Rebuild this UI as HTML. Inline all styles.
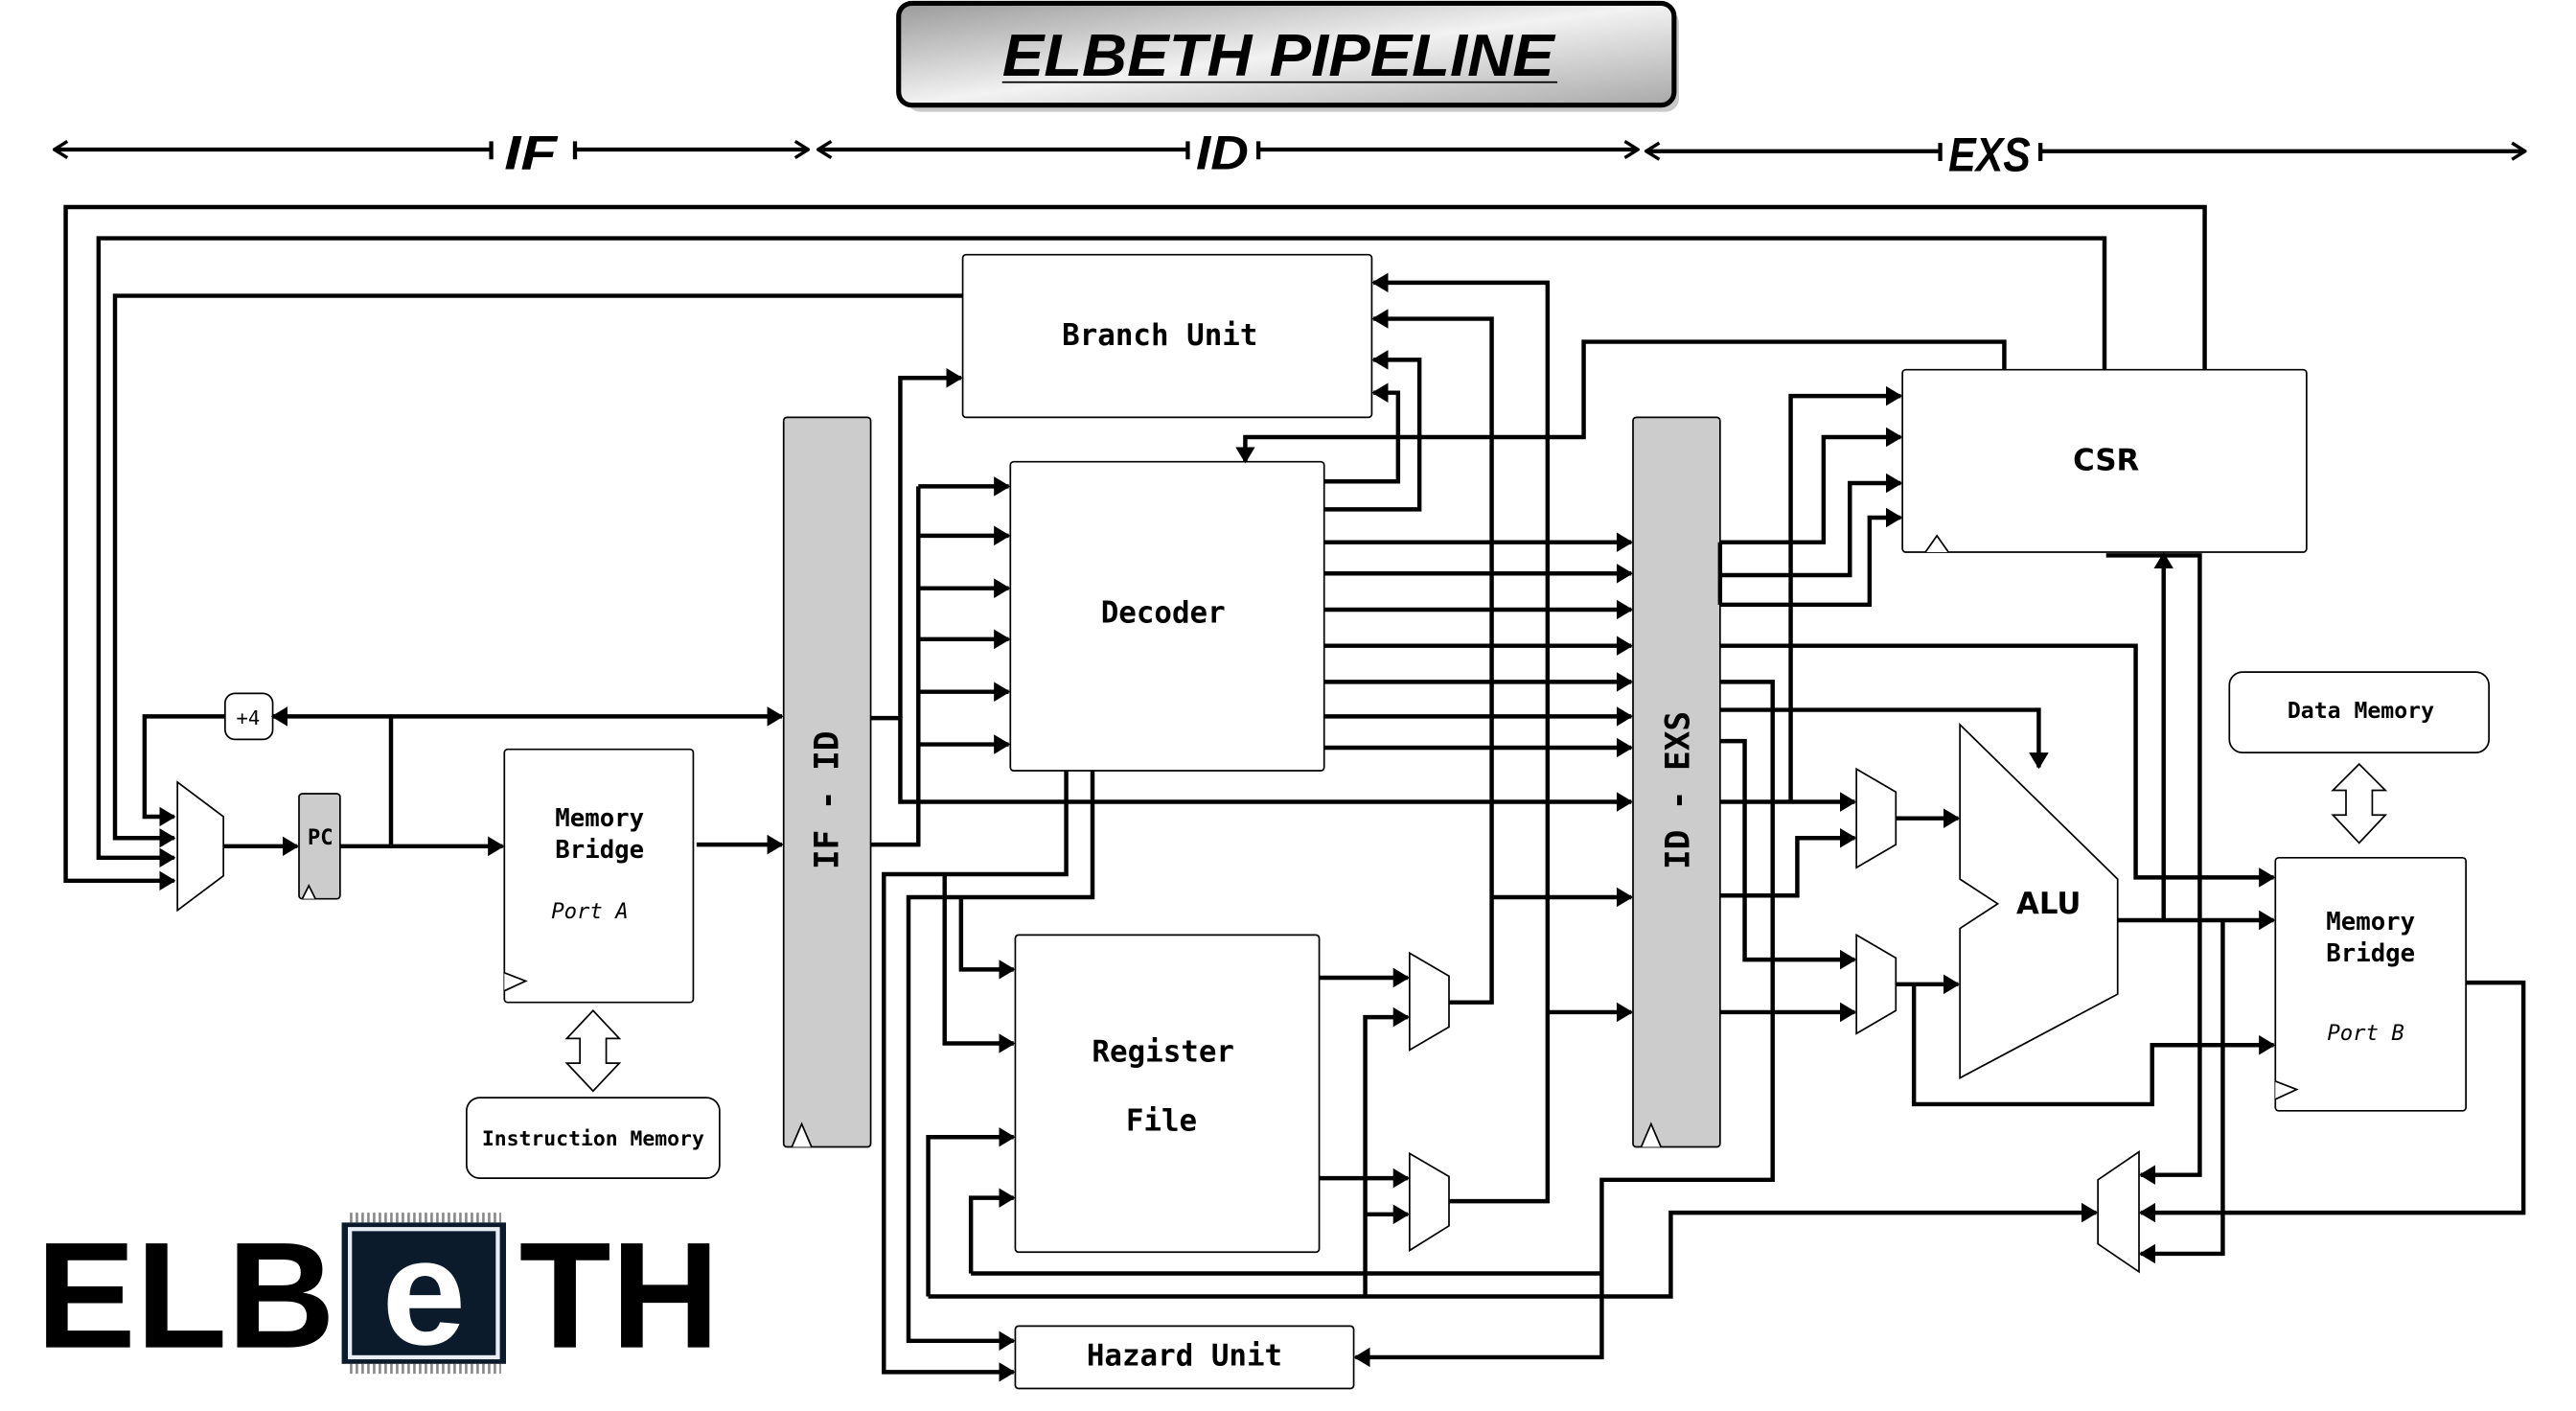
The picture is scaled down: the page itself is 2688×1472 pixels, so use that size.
<!DOCTYPE html>
<html><head><meta charset="utf-8"><style>
html,body{margin:0;padding:0;background:#fff;}
svg{display:block;}
.m{font-family:"DejaVu Sans Mono","Liberation Mono",monospace;font-weight:bold;}
</style></head><body>
<svg width="2688" height="1472" viewBox="0 0 1568 858.7" preserveAspectRatio="none" xmlns="http://www.w3.org/2000/svg">
<defs>
<marker id="a" markerUnits="userSpaceOnUse" markerWidth="10" markerHeight="12" refX="9" refY="6" orient="auto">
<path d="M0,0 L10,6 L0,12 z" fill="#000"/></marker>
<marker id="s" markerUnits="userSpaceOnUse" markerWidth="10" markerHeight="12" refX="9" refY="6" orient="auto">
<path d="M1,1 L9,6 L1,11" fill="none" stroke="#000" stroke-width="2"/></marker>
<linearGradient id="g" x1="0" y1="0" x2="1" y2="1"><stop offset="0" stop-color="#9a9a9a"/><stop offset="0.5" stop-color="#f2f2f2"/><stop offset="1" stop-color="#a8a8a8"/></linearGradient>
</defs>

<!-- title -->
<rect x="549" y="3" width="470" height="62" rx="8" fill="#777" opacity="0.4" transform="translate(3,3)"/>
<rect x="547" y="2" width="472" height="62" rx="8" fill="url(#g)" stroke="#000" stroke-width="3"/>
<text x="610" y="46" font-family="Liberation Sans,sans-serif" font-weight="bold" font-style="italic" font-size="36" textLength="336" lengthAdjust="spacingAndGlyphs">ELBETH PIPELINE</text>
<line x1="610" y1="50" x2="948" y2="50" stroke="#000" stroke-width="1"/>

<!-- stage arrows -->
<g stroke="#000" stroke-width="2.5" fill="none">
<path d="M298,91 H33" marker-end="url(#s)"/><path d="M350,91 H492" marker-end="url(#s)"/>
<path d="M722,91 H498" marker-end="url(#s)"/><path d="M766,91 H997" marker-end="url(#s)"/>
<path d="M1180,92 H1002" marker-end="url(#s)"/><path d="M1242,92 H1537" marker-end="url(#s)"/>
<path d="M299,86 V97 M350,86 V97 M723,86 V97 M766,86 V97 M1181,87 V98 M1242,87 V98"/>
</g>
<g font-family="Liberation Sans,sans-serif" font-weight="bold" font-style="italic" font-size="29">
<text x="307" y="103" textLength="32" lengthAdjust="spacingAndGlyphs">IF</text>
<text x="728" y="103" textLength="32" lengthAdjust="spacingAndGlyphs">ID</text>
<text x="1186" y="104" textLength="50" lengthAdjust="spacingAndGlyphs">EXS</text>
</g>

<!-- boxes -->
<g fill="#fff" stroke="#000" stroke-width="1">
<rect x="586" y="155" width="249" height="99" rx="2"/>
<rect x="615" y="281" width="191" height="188" rx="2"/>
<rect x="618" y="569" width="185" height="193" rx="2"/>
<rect x="618" y="807" width="206" height="38" rx="2"/>
<rect x="1158" y="225" width="246" height="111" rx="2"/>
<rect x="1357" y="409" width="158" height="49" rx="8"/>
<rect x="1385" y="522" width="116" height="154" rx="2"/>
<rect x="307" y="456" width="115" height="154" rx="2"/>
<rect x="284" y="668" width="154" height="49" rx="8"/>
<rect x="137" y="422" width="29" height="28" rx="6"/>
<rect x="182" y="483" width="25" height="64" rx="2" fill="#ccc"/>
<rect x="477" y="254" width="53" height="444" rx="2" fill="#ccc"/>
<rect x="994" y="254" width="53" height="444" rx="2" fill="#ccc"/>
<polygon points="108,476 136,497 136,533 108,554"/>
<polygon points="858,580 882,594 882,625 858,639"/>
<polygon points="858,702 882,716 882,746 858,761"/>
<polygon points="1130,468 1154,482 1154,514 1130,528"/>
<polygon points="1130,569 1154,583 1154,615 1130,629"/>
<polygon points="1302,701 1302,774 1277,757 1277,718"/>
<polygon points="1193,441 1289,535 1289,602 1289,605 1193,656 1193,565 1216,550 1193,535"/>
<polygon points="361,615 377,632 369,632 369,647 377,647 361,664 345,647 353,647 353,632 345,632"/>
<polygon points="1436,465 1452,481 1444,481 1444,496 1452,496 1436,513 1420,496 1428,496 1428,481 1420,481"/>
<polyline points="482,698 488,684 494,698"/>
<polyline points="999,698 1005,684 1011,698"/>
<polyline points="184,547 188,539 192,547"/>
<polyline points="1172,336 1179,326 1186,336"/>
<polyline points="307,592 320,597 307,603"/>
<polyline points="1385,658 1398,663 1385,669"/>
</g>

<!-- wires -->
<g stroke="#000" stroke-width="2.6" fill="none" stroke-linejoin="miter">
<path d="M1342,225 V126 H40 V536 H106" marker-end="url(#a)"/>
<path d="M1281,225 V145 H60 V522 H106" marker-end="url(#a)"/>
<path d="M586,180 H70 V510 H106" marker-end="url(#a)"/>
<path d="M137,436 H88 V497 H106" marker-end="url(#a)"/>
<path d="M238,436 H166" marker-end="url(#a)"/>
<path d="M238,436 H476" marker-end="url(#a)"/>
<path d="M238,515 V436"/>
<path d="M136,515 H181" marker-end="url(#a)"/>
<path d="M207,515 H306" marker-end="url(#a)"/>
<path d="M424,514 H476" marker-end="url(#a)"/>
<path d="M530,437 H548 V488 H993" marker-end="url(#a)"/>
<path d="M548,437 V230 H585" marker-end="url(#a)"/>
<path d="M530,514 H559 V296"/>
<path d="M559,296 H614" marker-end="url(#a)"/>
<path d="M559,326 H614" marker-end="url(#a)"/>
<path d="M559,358 H614" marker-end="url(#a)"/>
<path d="M559,389 H614" marker-end="url(#a)"/>
<path d="M559,421 H614" marker-end="url(#a)"/>
<path d="M559,453 H614" marker-end="url(#a)"/>
<path d="M649,469 V532 H538 V835 H617" marker-end="url(#a)"/>
<path d="M575,532 V635 H617" marker-end="url(#a)"/>
<path d="M665,469 V546 H553 V816 H617" marker-end="url(#a)"/>
<path d="M585,546 V590 H617" marker-end="url(#a)"/>
<path d="M806,330 H993" marker-end="url(#a)"/>
<path d="M806,349 H993" marker-end="url(#a)"/>
<path d="M806,371 H993" marker-end="url(#a)"/>
<path d="M806,393 H993" marker-end="url(#a)"/>
<path d="M806,415 H993" marker-end="url(#a)"/>
<path d="M806,436 H993" marker-end="url(#a)"/>
<path d="M806,455 H993" marker-end="url(#a)"/>
<path d="M806,293 H851 V239 H836" marker-end="url(#a)"/>
<path d="M806,310 H864 V219 H836" marker-end="url(#a)"/>
<path d="M882,731 H942 V172 H836" marker-end="url(#a)"/>
<path d="M942,616 H993" marker-end="url(#a)"/>
<path d="M882,610 H908 V194 H836" marker-end="url(#a)"/>
<path d="M908,546 H993" marker-end="url(#a)"/>
<path d="M1220,225 V208 H964 V266 H758 V281" marker-end="url(#a)"/>
<path d="M803,595 H857" marker-end="url(#a)"/>
<path d="M803,717 H857" marker-end="url(#a)"/>
<path d="M831,789 V619 H857" marker-end="url(#a)"/>
<path d="M831,739 H857" marker-end="url(#a)"/>
<path d="M565,789 V692 H617" marker-end="url(#a)"/>
<path d="M565,789 H1017 V738 H1276" marker-end="url(#a)"/>
<path d="M591,775 V729 H617" marker-end="url(#a)"/>
<path d="M591,775 H975"/>
<path d="M1047,415 H1079 V718 H975 V826 H825" marker-end="url(#a)"/>
<path d="M1047,330 H1110 V266 H1157" marker-end="url(#a)"/>
<path d="M1047,350 H1126 V294 H1157" marker-end="url(#a)"/>
<path d="M1047,368 H1138 V315 H1157" marker-end="url(#a)"/>
<path d="M1047,330 V368"/>
<path d="M1090,488 V241 H1157" marker-end="url(#a)"/>
<path d="M1047,488 H1129" marker-end="url(#a)"/>
<path d="M1047,545 H1094 V510 H1129" marker-end="url(#a)"/>
<path d="M1047,451 H1062 V584 H1129" marker-end="url(#a)"/>
<path d="M1047,616 H1129" marker-end="url(#a)"/>
<path d="M1047,432 H1241 V467" marker-end="url(#a)"/>
<path d="M1047,393 H1300 V534 H1384" marker-end="url(#a)"/>
<path d="M1154,498 H1192" marker-end="url(#a)"/>
<path d="M1154,599 H1192" marker-end="url(#a)"/>
<path d="M1165,599 V672 H1310 V636 H1384" marker-end="url(#a)"/>
<path d="M1289,560 H1384" marker-end="url(#a)"/>
<path d="M1317,560 V337" marker-end="url(#a)"/>
<path d="M1282,338 H1339 V715 H1303" marker-end="url(#a)"/>
<path d="M1353,560 V763 H1303" marker-end="url(#a)"/>
<path d="M1501,598 H1536 V738 H1303" marker-end="url(#a)"/>
</g>

<!-- labels -->
<g class="m" font-size="18" text-anchor="middle">
<text x="706" y="210">Branch Unit</text>
<text x="708" y="379">Decoder</text>
<text x="708" y="646">Register</text>
<text x="707" y="688">File</text>
<text x="721" y="831">Hazard Unit</text>
</g>
<g font-family="DejaVu Sans,Liberation Sans,sans-serif" font-weight="bold" font-size="18" text-anchor="middle">
<text x="1282" y="286">CSR</text>
<text x="1247" y="556">ALU</text>
</g>
<g class="m" font-size="15" text-anchor="middle">
<text x="365" y="503">Memory</text><text x="365" y="522">Bridge</text>
<text x="1443" y="566">Memory</text><text x="1443" y="585">Bridge</text>
</g>
<g font-family="DejaVu Sans Mono,monospace" font-style="italic" font-size="13" text-anchor="middle">
<text x="359" y="559">Port A</text><text x="1440" y="633">Port B</text>
</g>
<g class="m" text-anchor="middle">
<text x="361" y="697" font-size="12.5">Instruction Memory</text>
<text x="1437" y="437" font-size="13.5">Data Memory</text>
<text x="151" y="441" font-size="12" font-weight="normal">+4</text>
<text x="195" y="514" font-size="13">PC</text>
<text transform="translate(510,487) rotate(-90)" font-size="20">IF - ID</text>
<text transform="translate(1028,481) rotate(-90)" font-size="20">ID - EXS</text>
</g>

<!-- logo -->
<g>
<text x="22" y="820" font-family="Liberation Sans,sans-serif" font-weight="bold" font-size="92" textLength="182" lengthAdjust="spacingAndGlyphs" fill="#000">ELB</text>
<line x1="213" y1="741" x2="305" y2="741" stroke="#888" stroke-width="6" stroke-dasharray="1.5,2"/>
<line x1="213" y1="833" x2="305" y2="833" stroke="#888" stroke-width="6" stroke-dasharray="1.5,2"/>
<rect x="208" y="744" width="100" height="86" fill="#0b1b2c"/>
<rect x="213" y="748" width="90" height="78" fill="none" stroke="#e8eef4" stroke-width="2.5"/>
<text x="258" y="818" text-anchor="middle" font-family="Liberation Sans,sans-serif" font-weight="bold" font-size="92" fill="#fff">e</text>
<text x="316" y="820" font-family="Liberation Sans,sans-serif" font-weight="bold" font-size="92" textLength="122" lengthAdjust="spacingAndGlyphs" fill="#000">TH</text>
</g>
</svg>
</body></html>
